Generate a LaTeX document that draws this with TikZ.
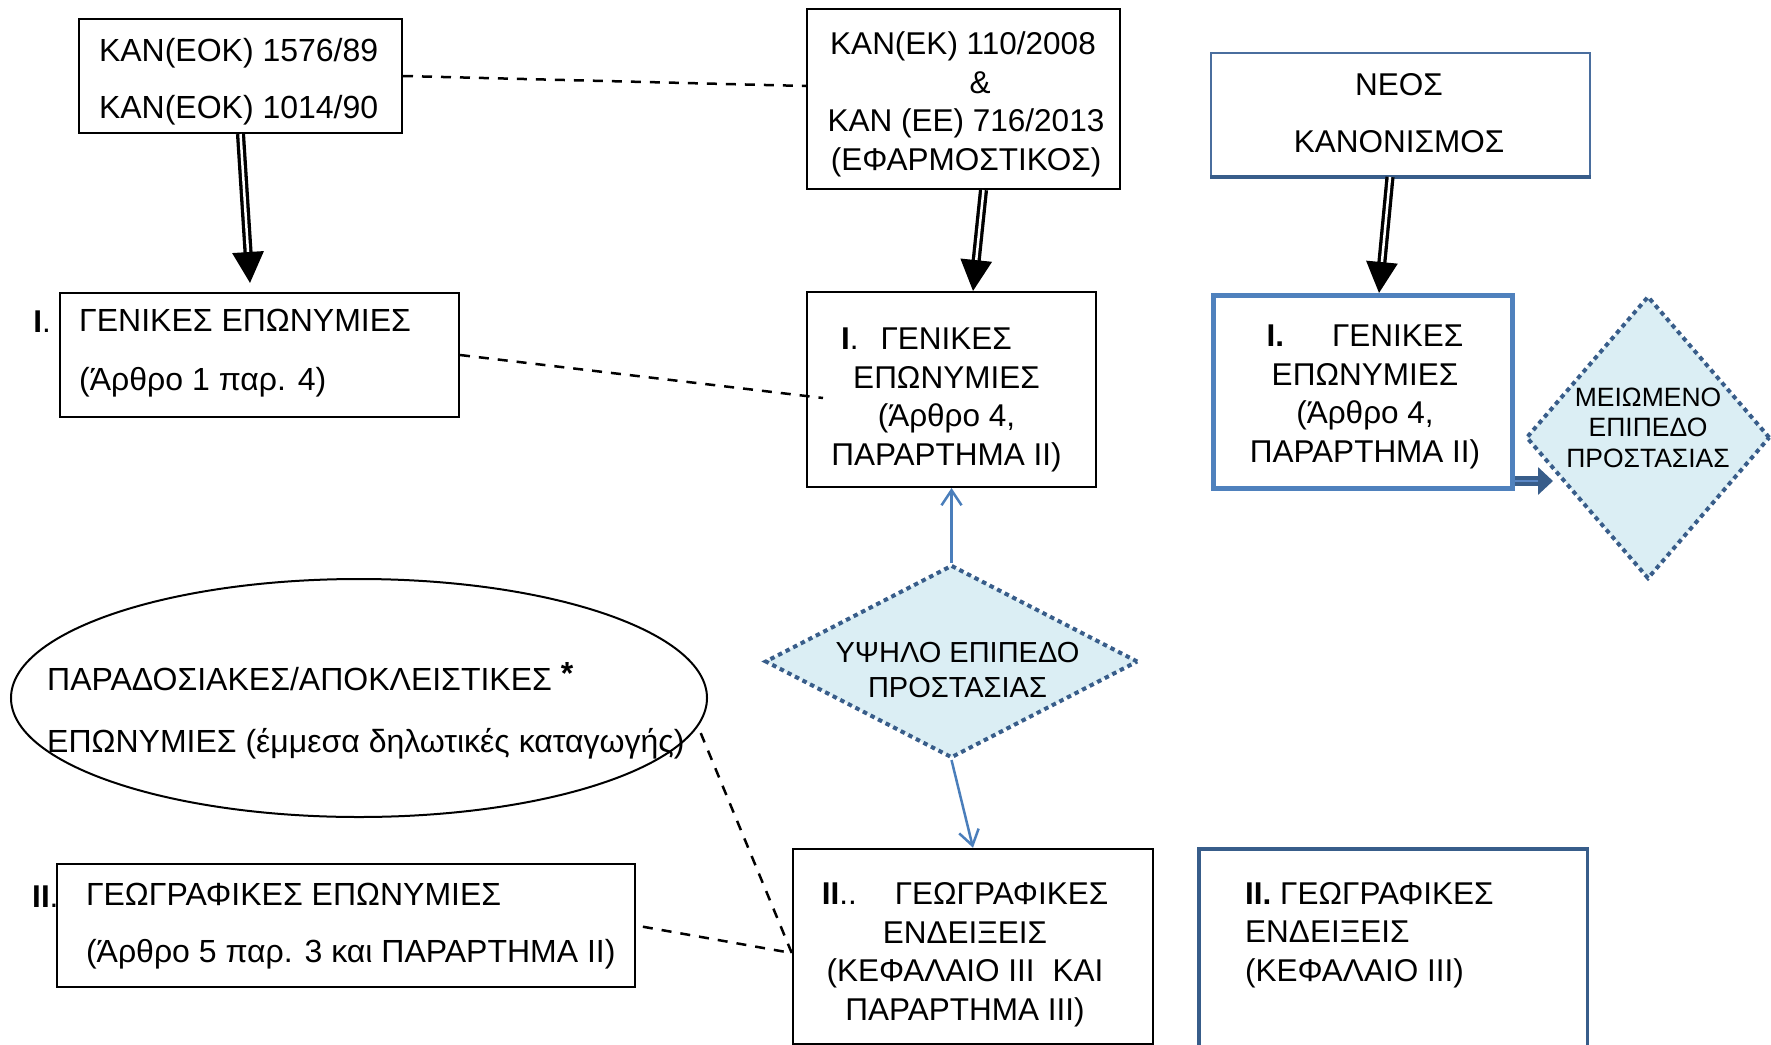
\documentclass[tikz,border=0pt]{standalone}
\usepackage{fontspec}
\setmainfont{Liberation Sans}
\usetikzlibrary{shapes.geometric,arrows.meta}
\definecolor{lblue}{HTML}{DBEEF4}
\definecolor{dotblue}{HTML}{385D8A}
\definecolor{midblue}{HTML}{4F81BD}
\definecolor{arrblue}{HTML}{4A7EBB}
\definecolor{neoline}{HTML}{4A6E9E}
\definecolor{innerblue}{HTML}{5A87C6}
\begin{document}
\begin{tikzpicture}[x=1pt,y=-1pt,
  txt/.style={font=\fontsize{31.5}{38.5}\selectfont, inner sep=0pt, outer sep=0pt},
  widetxt/.style={font=\fontsize{32}{57}\selectfont, inner sep=0pt, outer sep=0pt},
  bbox/.style={draw=black, line width=2pt, inner sep=0pt},
  dashln/.style={draw=black, line width=2.5pt, dash pattern=on 10pt off 9pt},
  dblarrow/.style={draw=black, line width=3.3pt, double=white, double distance=2.5pt, -{Triangle[width=31pt,length=31pt]}},
  bluearrow/.style={draw=arrblue, line width=2.5pt, -{Straight Barb[length=15pt,width=20pt]}},
  dotdiamond/.style={diamond, draw=dotblue, fill=lblue, line width=4pt, dash pattern=on 4.5pt off 4pt, inner sep=0pt},
  smallarr/.style={draw=dotblue, line width=3.5pt, double=innerblue, double distance=2.5pt, -{Triangle[width=27pt,length=15pt]}}
]
\path[use as bounding box, clip] (0,0) rectangle (1771,1044);

% top-left regulation box
\node[bbox, minimum width=323pt, minimum height=114pt] (kanA) at (240.5,76) {};
\node[widetxt, anchor=west, align=left] (kanAt) at (99,81.5) {ΚΑΝ(ΕΟΚ) 1576/89\\ΚΑΝ(ΕΟΚ) 1014/90};

% I. left
\node[bbox, minimum width=399pt, minimum height=124pt] (ileft) at (259.5,355) {};
\node[font=\fontsize{32}{59}\selectfont, inner sep=0pt, anchor=west, align=left] (ileftt) at (79,353.3) {ΓΕΝΙΚΕΣ ΕΠΩΝΥΜΙΕΣ\\(Άρθρο 1 παρ. 4)};
\node[txt, anchor=east] (ileftlab) at (51,322) {\textbf{I}.};

% middle regulation box
\node[bbox, minimum width=313pt, minimum height=180pt] (kanB) at (963.5,99) {};
\node[txt, align=center] (kanBt) at (966,104.5) {ΚΑΝ(ΕΚ) 110/2008\makebox[6pt]{}\\\makebox[28pt]{}\&\\ΚΑΝ (ΕΕ) 716/2013\\(ΕΦΑΡΜΟΣΤΙΚΟΣ)};

% I. middle
\node[bbox, minimum width=289pt, minimum height=195pt] (imid) at (951.5,389.5) {};
\node[txt, align=center] (imidt) at (946.5,400) {\textbf{I}.\hspace{22pt}ΓΕΝΙΚΕΣ\makebox[40pt]{}\\ΕΠΩΝΥΜΙΕΣ\\(Άρθρο 4,\\ΠΑΡΑΡΤΗΜΑ ΙΙ)};

% NEOS
\node[draw=neoline, line width=2pt, inner sep=0pt, minimum width=379pt, minimum height=123.5pt] (neos) at (1400.5,114.25) {};
\draw[dotblue, line width=4.5pt] (neos.south west) -- (neos.south east);
\node[widetxt, font=\fontsize{31.5}{57}\selectfont, align=center] (neost) at (1399,113.5) {ΝΕΟΣ\\ΚΑΝΟΝΙΣΜΟΣ};

% I. right
\node[draw=midblue, line width=5pt, inner sep=0pt, minimum width=299pt, minimum height=193pt] (ir) at (1363,392) {};
\node[txt, align=center] (irt) at (1365,397) {\textbf{I.}\hspace{48pt}ΓΕΝΙΚΕΣ\\ΕΠΩΝΥΜΙΕΣ\\(Άρθρο 4,\\ΠΑΡΑΡΤΗΜΑ ΙΙ)};

% reduced protection diamond
\node[dotdiamond, minimum width=244pt, minimum height=283pt] (mdiam) at (1648,437.5) {};
\node[font=\fontsize{26.5}{30.5}\selectfont, inner sep=0pt, align=center] (mdiamt) at (1648,427.5) {ΜΕΙΩΜΕΝΟ\\ΕΠΙΠΕΔΟ\\ΠΡΟΣΤΑΣΙΑΣ};
\coordinate (mtip) at (1553,481);
\draw[smallarr] (ir.east |- mtip) -- (mtip);

% high protection diamond
\node[dotdiamond, minimum width=373pt, minimum height=193pt] (ydiam) at (951.5,661.5) {};
\node[font=\fontsize{29}{35}\selectfont, inner sep=0pt, align=center] (ydiamt) at (957.5,670.5) {ΥΨΗΛΟ ΕΠΙΠΕΔΟ\\ΠΡΟΣΤΑΣΙΑΣ};

% ellipse
\node[ellipse, draw=black, line width=2pt, inner sep=0pt, minimum width=696pt, minimum height=238pt] (ell) at (359,698) {};
\node[font=\fontsize{32}{62}\selectfont, inner sep=0pt, anchor=west, align=left] (ellt) at (47,711) {ΠΑΡΑΔΟΣΙΑΚΕΣ/ΑΠΟΚΛΕΙΣΤΙΚΕΣ \raisebox{6pt}{\textbf{*}}\\ΕΠΩΝΥΜΙΕΣ (έμμεσα δηλωτικές καταγωγής)};

% II. left
\node[bbox, minimum width=578pt, minimum height=123pt] (iileft) at (346,925.5) {};
\node[widetxt, anchor=west, align=left] (iileftt) at (86,926) {ΓΕΩΓΡΑΦΙΚΕΣ ΕΠΩΝΥΜΙΕΣ\\(Άρθρο 5 παρ. 3 και ΠΑΡΑΡΤΗΜΑ ΙΙ)};
\node[txt, anchor=east] (iileftlab) at (58.5,897) {\textbf{II}.};

% II. middle
\node[bbox, line width=2.5pt, minimum width=360pt, minimum height=195pt] (iimid) at (973,946.5) {};
\node[txt, align=center] (iimidt) at (965,954.8) {\textbf{II}..\hspace{38pt}ΓΕΩΓΡΑΦΙΚΕΣ\\ΕΝΔΕΙΞΕΙΣ\\(ΚΕΦΑΛΑΙΟ ΙΙΙ\hspace{18pt}ΚΑΙ\\ΠΑΡΑΡΤΗΜΑ ΙΙΙ)};

% II. right
\node[draw=dotblue, line width=3.5pt, inner sep=0pt, minimum width=388.5pt, minimum height=220pt] (iiright) at (1393,959) {};
\node[font=\fontsize{31.5}{38.5}\selectfont, inner sep=0pt, anchor=west, align=left] (iirightt) at (1245,935) {\textbf{II.} ΓΕΩΓΡΑΦΙΚΕΣ\\ΕΝΔΕΙΞΕΙΣ\\(ΚΕΦΑΛΑΙΟ ΙΙΙ)};

% connectors
\coordinate (tipA) at (250,283);
\coordinate (d2end) at (823,398);
\draw[dblarrow] (kanA.south) -- (tipA);
\draw[dblarrow] ([xshift=20pt]kanB.south) -- ([xshift=21.5pt]imid.north);
\draw[dblarrow] ([xshift=-10.5pt]neos.south) -- ([xshift=16pt]ir.north);

\draw[dashln] (kanA.east) -- ([yshift=13pt]kanB.west);
\draw[dashln] (ileft.east) -- (d2end);
\draw[dashln] ([xshift=8pt]ell.-6) -- ([yshift=-6.5pt]iimid.west);
\draw[dashln, shorten <=7pt] (iileft.east) -- ([yshift=-6.5pt]iimid.west);

\draw[bluearrow] (ydiam.north) -- (imid.south);
\draw[bluearrow] (ydiam.south) -- (iimid.north);
\end{tikzpicture}
\end{document}
